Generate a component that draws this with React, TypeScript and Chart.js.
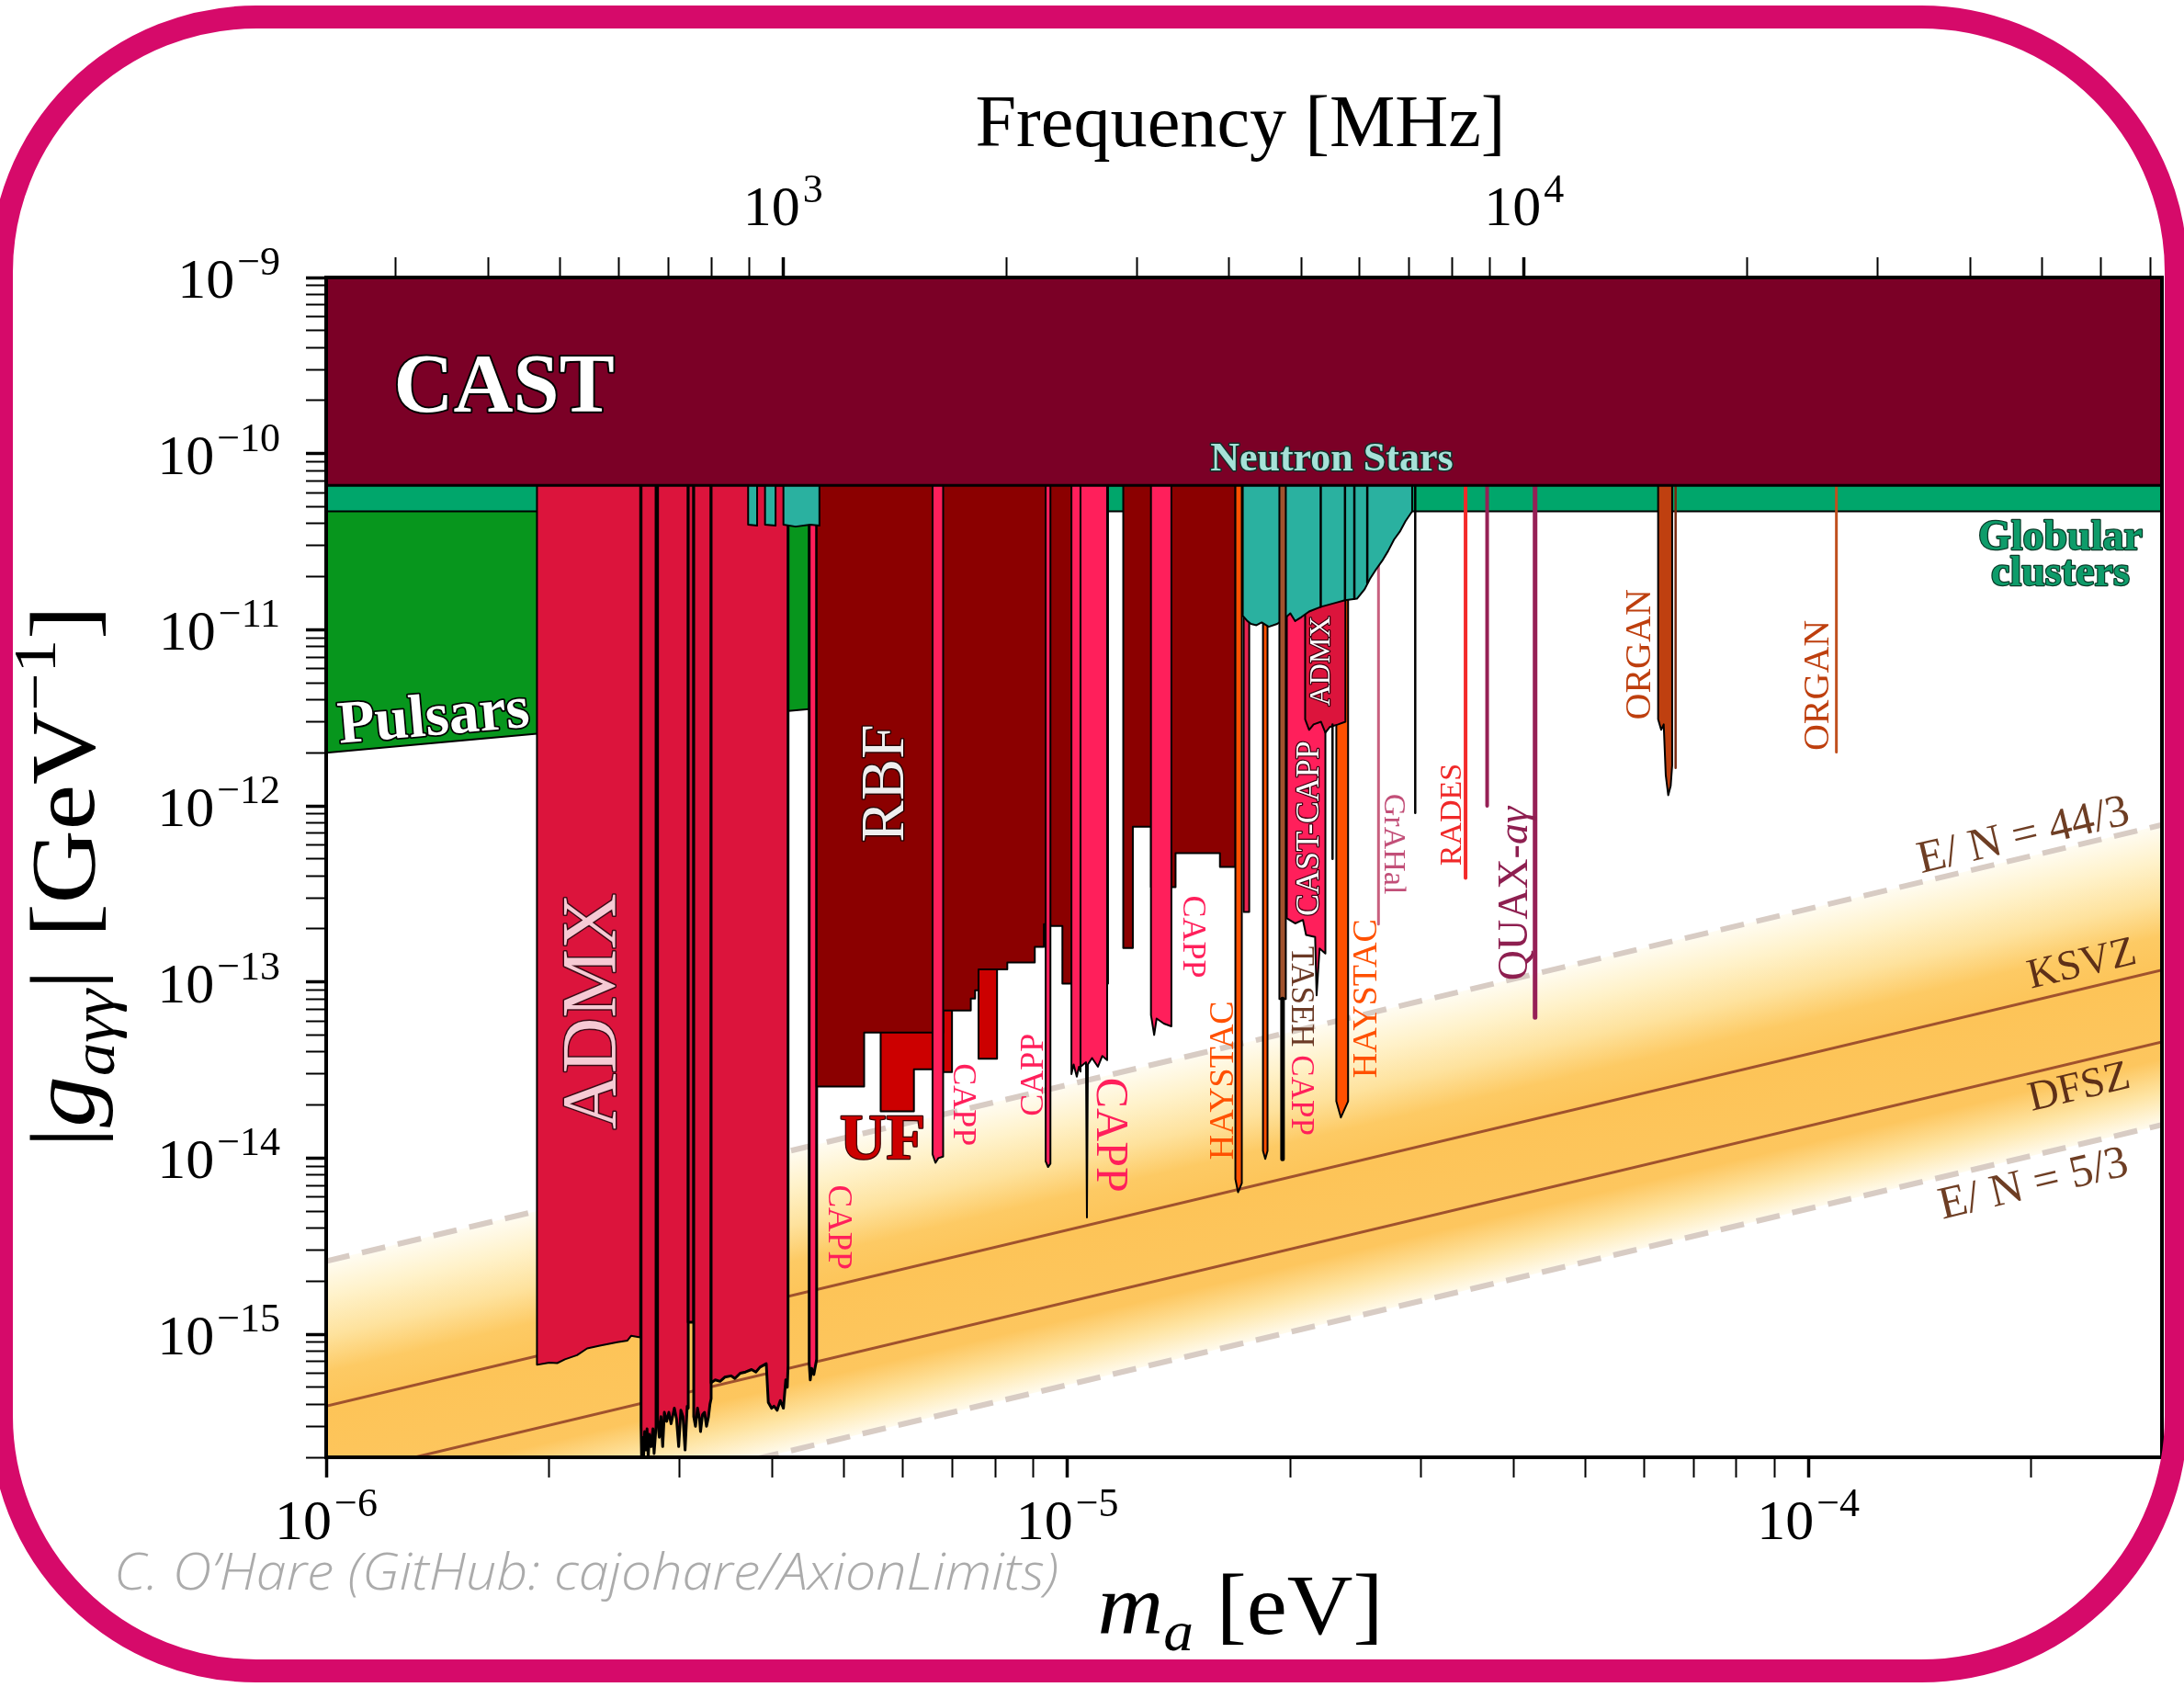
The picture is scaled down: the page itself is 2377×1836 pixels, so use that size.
import React, { useEffect, useRef } from 'react';
import { Chart, registerables } from 'chart.js';

Chart.register(...registerables);

const WIDTH = 2377;
const HEIGHT = 1836;
const SERIF = '"Liberation Serif", "Times New Roman", serif';
const SANS = '"Open Sans", "Noto Sans", sans-serif';

// ---------------- axes ----------------
const M_MIN = 1e-6;
const M_MAX = 3e-4;
const G_MIN = 2e-16;
const G_MAX = 1e-9;
const EV_TO_MHZ = 2.418e8;
const F_MIN = M_MIN * EV_TO_MHZ;
const F_MAX = M_MAX * EV_TO_MHZ;

const massTickLabels: [number, string][] = [[1e-6, '−6'], [1e-5, '−5'], [1e-4, '−4']];
const freqTickLabels: [number, string][] = [[1e3, '3'], [1e4, '4']];
const couplingTickLabels: [number, string][] = [
  [1e-9, '−9'], [1e-10, '−10'], [1e-11, '−11'], [1e-12, '−12'],
  [1e-13, '−13'], [1e-14, '−14'], [1e-15, '−15'],
];

// ---------------- limits (m_a [eV], g [GeV^-1]) ----------------
const TOP = 6.6e-11; // CAST
const HB = 4.7e-11; // globular clusters

const castRegion = [[1e-6, TOP], [3e-4, TOP]];
const globularClusters = [[1e-6, HB], [3e-4, HB]];
const pulsars = [[1e-6, 2.0e-12], [4.55e-6, 3.56e-12]];

const qcdUpper = [[1e-6, 2.6e-15], [3e-4, 7.8e-13]]; // E/N = 44/3
const qcdLower = [[1e-6, 5.15e-17], [3e-4, 1.545e-14]]; // E/N = 5/3
const ksvz = [[1e-6, 3.9e-16], [3e-4, 1.17e-13]];
const dfsz = [[1e-6, 1.52e-16], [3e-4, 4.56e-14]];

const admxA = [[1.925e-6, TOP], [1.925e-6, 6.7e-16], [2.0e-6, 6.9e-16], [2.05e-6, 6.85e-16], [2.1e-6, 7.2e-16], [2.18e-6, 7.6e-16], [2.25e-6, 8.3e-16], [2.34e-6, 8.6e-16], [2.47e-6, 9.0e-16], [2.55e-6, 9.2e-16], [2.58e-6, 9.8e-16], [2.653e-6, 9.6e-16], [2.653e-6, TOP]];
const admxB = [[2.66e-6, TOP], [2.66e-6, 3.0e-16], [2.665e-6, 1.9e-16], [2.672e-6, 2.6e-16], [2.68e-6, 1.95e-16], [2.69e-6, 2.8e-16], [2.7e-6, 2.2e-16], [2.71e-6, 2.9e-16], [2.72e-6, 2.0e-16], [2.73e-6, 2.7e-16], [2.745e-6, 2.3e-16], [2.76e-6, 2.9e-16], [2.77e-6, 2.1e-16], [2.787e-6, 3.0e-16], [2.787e-6, TOP]];
const admxC = [[2.8e-6, TOP], [2.8e-6, 3.3e-16], [2.815e-6, 2.6e-16], [2.83e-6, 3.4e-16], [2.845e-6, 2.3e-16], [2.86e-6, 3.6e-16], [2.88e-6, 3.2e-16], [2.9e-6, 3.6e-16], [2.92e-6, 3.1e-16], [2.95e-6, 3.8e-16], [2.97e-6, 3.3e-16], [2.99e-6, 2.3e-16], [3.01e-6, 3.7e-16], [3.03e-6, 3.4e-16], [3.05e-6, 2.2e-16], [3.07e-6, 3.9e-16], [3.08e-6, 3.8e-16], [3.08e-6, TOP]];
const admxD = [[3.08e-6, TOP], [3.08e-6, 1.17e-15], [3.133e-6, 1.17e-15], [3.133e-6, TOP]];
const admxE = [[3.133e-6, TOP], [3.133e-6, 3.4e-16], [3.15e-6, 3.0e-16], [3.17e-6, 3.8e-16], [3.19e-6, 3.3e-16], [3.2e-6, 2.8e-16], [3.22e-6, 3.5e-16], [3.24e-6, 3.6e-16], [3.26e-6, 3.0e-16], [3.28e-6, 3.4e-16], [3.295e-6, 4.0e-16], [3.307e-6, 4.3e-16], [3.307e-6, TOP]];
const admxF = [[3.307e-6, TOP], [3.307e-6, 5.3e-16], [3.35e-6, 5.5e-16], [3.4e-6, 5.4e-16], [3.45e-6, 5.7e-16], [3.52e-6, 5.8e-16], [3.56e-6, 5.6e-16], [3.62e-6, 6.0e-16], [3.68e-6, 6.1e-16], [3.75e-6, 6.3e-16], [3.8e-6, 6.1e-16], [3.85e-6, 6.5e-16], [3.925e-6, 6.8e-16], [3.95e-6, 4.1e-16], [3.99e-6, 3.8e-16], [4.02e-6, 3.9e-16], [4.06e-6, 3.7e-16], [4.1e-6, 4.2e-16], [4.14e-6, 3.8e-16], [4.17e-6, 5.5e-16], [4.19e-6, 5.0e-16], [4.2e-6, 6.6e-16], [4.2e-6, TOP]];
const admxHigh = [[2.094e-5, TOP], [2.094e-5, 3.1e-12], [2.12e-5, 2.7e-12], [2.15e-5, 2.9e-12], [2.2e-5, 3.0e-12], [2.23e-5, 2.6e-12], [2.26e-5, 2.8e-12], [2.32e-5, 2.9e-12], [2.373e-5, 3.0e-12], [2.373e-5, TOP]];

const cappA = [[4.485e-6, TOP], [4.485e-6, 6.8e-16], [4.5e-6, 5.5e-16], [4.52e-6, 6.4e-16], [4.55e-6, 5.9e-16], [4.59e-6, 7.2e-16], [4.59e-6, TOP]];
const cappB = [[6.58e-6, TOP], [6.58e-6, 1.05e-14], [6.64e-6, 9.4e-15], [6.7e-6, 1.0e-14], [6.8e-6, 1.02e-14], [6.8e-6, TOP]];
const cappC = [[9.35e-6, TOP], [9.35e-6, 9.6e-15], [9.42e-6, 8.9e-15], [9.49e-6, 9.3e-15], [9.49e-6, TOP]];
const cappD = [[1.013e-5, TOP], [1.013e-5, 3.0e-14], [1.02e-5, 3.4e-14], [1.03e-5, 2.9e-14], [1.037e-5, 3.3e-14], [1.042e-5, 3.1e-14], [1.042e-5, TOP]];
const cappE = [[1.042e-5, TOP], [1.042e-5, 3.3e-14], [1.06e-5, 3.5e-14], [1.063e-5, 4.6e-15], [1.066e-5, 3.4e-14], [1.08e-5, 3.7e-14], [1.1e-5, 3.3e-14], [1.115e-5, 3.8e-14], [1.132e-5, 3.6e-14], [1.132e-5, TOP]];
const cappF = [[1.297e-5, TOP], [1.297e-5, 6.5e-14], [1.31e-5, 5.0e-14], [1.32e-5, 6.2e-14], [1.35e-5, 5.8e-14], [1.382e-5, 5.6e-14], [1.382e-5, TOP]];
const cappG = [[1.73e-5, TOP], [1.73e-5, 2.5e-13], [1.76e-5, 2.5e-13], [1.76e-5, TOP]];
const castCapp = [[1.978e-5, TOP], [1.978e-5, 2.3e-13], [2.03e-5, 2.15e-13], [2.08e-5, 2.25e-13], [2.1e-5, 1.85e-13], [2.16e-5, 1.8e-13], [2.17e-5, 8.4e-14], [2.19e-5, 1.55e-13], [2.23e-5, 1.45e-13], [2.23e-5, TOP]];

const rbf = [[4.59e-6, TOP], [4.59e-6, 2.55e-14], [5.32e-6, 2.55e-14], [5.32e-6, 5.16e-14], [6.8e-6, 5.16e-14], [6.8e-6, 6.89e-14], [7.41e-6, 6.89e-14], [7.41e-6, 8.05e-14], [7.51e-6, 8.05e-14], [7.51e-6, 8.98e-14], [7.59e-6, 8.98e-14], [7.59e-6, 1.18e-13], [8.3e-6, 1.18e-13], [8.3e-6, 1.29e-13], [9.04e-6, 1.29e-13], [9.04e-6, 1.58e-13], [9.3e-6, 1.58e-13], [9.3e-6, 2.13e-13], [9.49e-6, 2.13e-13], [9.49e-6, 2.08e-13], [9.85e-6, 2.08e-13], [9.85e-6, 9.77e-14], [1.135e-5, 9.77e-14], [1.135e-5, TOP], [1.19e-5, TOP], [1.19e-5, 1.56e-13], [1.226e-5, 1.56e-13], [1.226e-5, 7.6e-13], [1.297e-5, 7.6e-13], [1.297e-5, 3.45e-13], [1.4e-5, 3.45e-13], [1.4e-5, 5.38e-13], [1.607e-5, 5.38e-13], [1.607e-5, 4.5e-13], [1.686e-5, 4.5e-13], [1.686e-5, TOP]];
const ufA = [[5.6e-6, 5.16e-14], [5.6e-6, 1.84e-14], [6.21e-6, 1.84e-14], [6.21e-6, 3.19e-14], [6.58e-6, 3.19e-14], [6.58e-6, 5.16e-14]];
const ufB = [[6.8e-6, 6.89e-14], [6.8e-6, 3.08e-14], [6.99e-6, 3.08e-14], [6.99e-6, 6.89e-14]];
const ufC = [[7.59e-6, 1.18e-13], [7.59e-6, 3.66e-14], [8.04e-6, 3.66e-14], [8.04e-6, 1.18e-13]];

const haystacA = [[1.686e-5, TOP], [1.686e-5, 7.6e-15], [1.7e-5, 6.4e-15], [1.72e-5, 7.2e-15], [1.72e-5, TOP]];
const haystacB = [[1.837e-5, TOP], [1.837e-5, 1.1e-14], [1.85e-5, 9.9e-15], [1.863e-5, 1.1e-14], [1.863e-5, TOP]];
const haystacC = [[2.307e-5, TOP], [2.307e-5, 2.1e-14], [2.34e-5, 1.7e-14], [2.393e-5, 2.1e-14], [2.393e-5, TOP]];
const taseh = [[1.933e-5, TOP], [1.933e-5, 8.0e-14], [1.972e-5, 8.0e-14], [1.972e-5, TOP]];
const tasehTail = [[1.952e-5, 8.0e-14], [1.952e-5, 9.9e-15]];

const neutronStarsA = [[3.71e-6, TOP], [3.71e-6, 3.95e-11], [3.815e-6, 3.9e-11], [3.815e-6, TOP], [3.91e-6, TOP], [3.91e-6, 3.95e-11], [4.04e-6, 3.9e-11], [4.04e-6, TOP], [4.14e-6, TOP], [4.14e-6, 3.95e-11], [4.3e-6, 3.85e-11], [4.5e-6, 3.95e-11], [4.63e-6, 3.9e-11], [4.63e-6, TOP]];
const neutronStarsB = [[1.725e-5, TOP], [1.725e-5, 1.2e-11], [1.75e-5, 1.12e-11], [1.77e-5, 1.08e-11], [1.8e-5, 1.06e-11], [1.83e-5, 1.1e-11], [1.87e-5, 1.04e-11], [1.92e-5, 1.08e-11], [1.96e-5, 1.15e-11], [2.0e-5, 1.24e-11], [2.03e-5, 1.12e-11], [2.07e-5, 1.18e-11], [2.12e-5, 1.27e-11], [2.2e-5, 1.35e-11], [2.3e-5, 1.42e-11], [2.37e-5, 1.47e-11], [2.46e-5, 1.5e-11], [2.52e-5, 1.7e-11], [2.56e-5, 1.94e-11], [2.61e-5, 2.2e-11], [2.66e-5, 2.46e-11], [2.71e-5, 2.8e-11], [2.76e-5, 3.25e-11], [2.81e-5, 3.6e-11], [2.86e-5, 4.13e-11], [2.92e-5, 4.7e-11], [2.92e-5, TOP]];

const grahal = [[2.63e-5, TOP], [2.63e-5, 2.13e-13]];
const rades = [[3.447e-5, TOP], [3.447e-5, 3.89e-13]];
const quaxA = [[3.686e-5, TOP], [3.686e-5, 1.0e-12]];
const quaxB = [[4.278e-5, TOP], [4.278e-5, 6.3e-14]];
const organA = [[6.27e-5, TOP], [6.27e-5, 3.1e-12], [6.33e-5, 2.7e-12], [6.38e-5, 2.9e-12], [6.42e-5, 1.5e-12], [6.47e-5, 1.15e-12], [6.52e-5, 1.3e-12], [6.55e-5, 1.7e-12], [6.55e-5, TOP]];
const organB = [[6.62e-5, TOP], [6.62e-5, 1.64e-12]];
const organC = [[1.091e-4, TOP], [1.091e-4, 2.02e-12]];
// black outline edges [m, g_top, g_bottom]
const edgeLines = [[2.198e-5, TOP, 1.35e-11], [2.37e-5, TOP, 1.47e-11], [2.44e-5, TOP, 1.5e-11], [2.54e-5, TOP, 1.85e-11], [2.28e-5, 2.9e-12, 5.0e-13], [2.948e-5, TOP, 9.1e-13]];

// ---------------- colours ----------------
const C = {
  cast: '#7B0026', gc: '#00A66B', pulsars: '#07961D', ns: '#2AB1A0', admx: '#DC143C',
  rbf: '#8B0000', uf: '#CC0000', capp: '#FF1F5B', haystac: '#FF5000', taseh: '#A0522D',
  grahal: '#C8607F', rades: '#F42A2A', quax: '#962056', organ: '#BF4010', qcd: '#A0522D', en: '#D8CCC4',
};
const qcdStops: [number, string][] = [
  [0, '#FFFCF2'], [0.12, '#FFF2CA'], [0.25, '#FEE29D'], [0.37, '#FDCA64'], [0.5, '#FDC458'],
  [0.78, '#FDC65E'], [0.89, '#FEE4A2'], [1, '#FFFBEE'],
];

function qcdGradient(c: any) {
  const chart = c.chart;
  const xs = chart.scales && chart.scales.x;
  const ys = chart.scales && chart.scales.y;
  if (!chart.chartArea || !xs || !ys) return '#FDC458';
  const ax = xs.getPixelForValue(qcdUpper[0][0]), ay = ys.getPixelForValue(qcdUpper[0][1]);
  const bx = xs.getPixelForValue(qcdUpper[1][0]), by = ys.getPixelForValue(qcdUpper[1][1]);
  const lx = xs.getPixelForValue(qcdLower[0][0]), ly = ys.getPixelForValue(qcdLower[0][1]);
  let ux = bx - ax, uy = by - ay;
  const len = Math.hypot(ux, uy); ux /= len; uy /= len;
  const nx = -uy, ny = ux;
  const d = (lx - ax) * nx + (ly - ay) * ny;
  const g = chart.ctx.createLinearGradient(ax, ay, ax + nx * d, ay + ny * d);
  qcdStops.forEach(([o, col]) => g.addColorStop(o, col));
  return g;
}

const toXY = (pts: number[][]) => pts.map(([x, y]) => ({ x, y }));

function buildDatasets() {
  const list: any[] = [];
  const area = (pts: number[][], color: string, extra: any = {}) =>
    list.push({ data: toXY(pts), backgroundColor: color, borderColor: '#000', borderWidth: 2, fill: 'end', ...extra });
  const line = (pts: number[][], color: string, width: number, extra: any = {}) =>
    list.push({ data: toXY(pts), borderColor: color, borderWidth: width, fill: false, ...extra });

  // bottom -> top
  line(qcdUpper, C.en, 6, { fill: '+1', backgroundColor: qcdGradient, borderDash: [26, 14], borderJoinStyle: 'miter' });
  line(qcdLower, C.en, 6, { borderDash: [26, 14] });
  line(ksvz, C.qcd, 3);
  line(dfsz, C.qcd, 3);
  area(pulsars, C.pulsars);
  area(globularClusters, C.gc);
  area(admxA, C.admx);
  [admxB, admxC, admxD, admxE, admxF].forEach((p) => area(p, C.admx, { borderWidth: 3 }));
  area(cappA, C.capp, { borderWidth: 3 });
  [ufA, ufB, ufC].forEach((p) => area(p, C.uf));
  area(rbf, C.rbf);
  [cappB, cappC, cappD, cappE, cappF].forEach((p) => area(p, C.capp));
  area(haystacA, C.haystac);
  area(cappG, '#E8234F');
  area(haystacB, C.haystac);
  area(castCapp, C.capp);
  area(haystacC, C.haystac);
  area(admxHigh, C.admx);
  line(grahal, C.grahal, 3);
  area(neutronStarsA, C.ns);
  area(neutronStarsB, C.ns);
  area(taseh, C.taseh);
  line(tasehTail, '#000', 5);
  edgeLines.forEach(([m, a, b]) => line([[m, a], [m, b]], '#000', 2.5));
  line(rades, C.rades, 4);
  line(quaxA, C.quax, 4);
  line(quaxB, C.quax, 5);
  area(organA, C.organ);
  line(organB, '#7A2A10', 2.5);
  line(organC, '#C0501E', 3);
  area(castRegion, C.cast, { borderWidth: 3 });

  list.forEach((d, i) => {
    d.order = list.length - i;
    d.pointRadius = 0;
    d.pointHoverRadius = 0;
    d.tension = 0;
    if (!d.borderJoinStyle) d.borderJoinStyle = 'round';
  });
  return list;
}

// ---------------- text ----------------
type Part = { t: string; s: number; w?: string; i?: boolean; c?: string; dy?: number; gap?: number; f?: string };

function drawRich(ctx: CanvasRenderingContext2D, parts: Part[], o: any) {
  ctx.save();
  ctx.translate(o.x, o.y);
  if (o.rot) ctx.rotate(o.rot);
  const fonts = parts.map((p) => `${p.i ? 'italic' : 'normal'} ${p.w || 'normal'} ${p.s}px ${p.f || SERIF}`);
  const widths = parts.map((p, k) => { ctx.font = fonts[k]; return ctx.measureText(p.t).width + (p.gap || 0); });
  const total = widths.reduce((a, b) => a + b, 0);
  if (o.targetWidth) ctx.scale(o.targetWidth / total, 1);
  let cx = o.align === 'left' ? 0 : o.align === 'right' ? -total : -total / 2;
  const base = o.vcenter ? parts[0].s * 0.34 : 0;
  ctx.textAlign = 'left';
  ctx.textBaseline = 'alphabetic';
  parts.forEach((p, k) => {
    ctx.font = fonts[k];
    const y = base + (p.dy || 0);
    if (o.stroke) {
      ctx.lineJoin = 'round';
      ctx.lineWidth = o.sw || 2;
      ctx.strokeStyle = o.stroke;
      ctx.strokeText(p.t, cx, y);
    }
    ctx.fillStyle = p.c || o.color || '#000';
    ctx.fillText(p.t, cx, y);
    cx += widths[k];
  });
  ctx.restore();
}

const plotLabels: any[] = [
  { parts: [{ t: 'CAST', s: 90, w: 'bold' }], m: 1.738e-6, g: 2.507e-10, rot: 0, color: '#FFFFFF', stroke: '#000', sw: 4 },
  { parts: [{ t: 'Pulsars', s: 66, w: 'bold' }], m: 1.395e-6, g: 3.31e-12, rot: -5, color: '#FFFFFF', stroke: '#000', sw: 3.5 },
  { parts: [{ t: 'ADMX', s: 84 }], m: 2.268e-6, g: 6.81e-14, rot: -90, color: '#F6CAD4', stroke: '#3B0A15', sw: 3 },
  { parts: [{ t: 'RBF', s: 68 }], m: 5.617e-6, g: 1.343e-12, rot: -90, color: '#EEEEEE', stroke: '#2A0000', sw: 3 },
  { parts: [{ t: 'UF', s: 70, w: 'bold' }], m: 5.633e-6, g: 1.327e-14, rot: 0, color: C.uf, stroke: '#3A0000', sw: 2.5 },
  { parts: [{ t: 'CAPP', s: 37 }], m: 4.937e-6, g: 4.045e-15, rot: 90, color: C.capp },
  { parts: [{ t: 'CAPP', s: 36 }], m: 7.272e-6, g: 2.009e-14, rot: 90, color: C.capp },
  { parts: [{ t: 'CAPP', s: 36 }], m: 8.96e-6, g: 2.97e-14, rot: -90, color: C.capp },
  { parts: [{ t: 'CAPP', s: 50 }], m: 1.15e-5, g: 1.352e-14, rot: 90, color: C.capp },
  { parts: [{ t: 'CAPP', s: 36 }], m: 1.484e-5, g: 1.803e-13, rot: 90, color: C.capp },
  { parts: [{ t: 'HAYSTAC', s: 38 }], m: 1.611e-5, g: 2.762e-14, rot: -90, color: C.haystac },
  { parts: [{ t: 'TASEH ', s: 35, c: '#6B3A26' }, { t: 'CAPP', s: 35, c: C.capp }], m: 2.079e-5, g: 4.63e-14, rot: 90 },
  { parts: [{ t: 'HAYSTAC', s: 38 }], m: 2.516e-5, g: 8.05e-14, rot: -90, color: C.haystac },
  { parts: [{ t: 'CAST-CAPP', s: 36 }], m: 2.105e-5, g: 7.45e-13, rot: -90, color: '#FFFFFF', stroke: '#3A0010', sw: 2.5 },
  { parts: [{ t: 'ADMX', s: 32 }], m: 2.192e-5, g: 6.64e-12, rot: -90, color: '#FFFFFF', stroke: '#3A0010', sw: 2.5 },
  { parts: [{ t: 'GrAHal', s: 34 }], m: 2.773e-5, g: 6.07e-13, rot: 90, color: '#C24F78' },
  { parts: [{ t: 'RADES', s: 34 }], m: 3.283e-5, g: 8.92e-13, rot: -90, color: '#F02828' },
  { parts: [{ t: 'QUAX-', s: 46 }, { t: 'aγ', s: 46, i: true }], m: 3.986e-5, g: 3.17e-13, rot: -90, color: '#8E1F50' },
  { parts: [{ t: 'ORGAN', s: 40 }], m: 5.888e-5, g: 7.23e-12, rot: -90, color: '#BE3F0E' },
  { parts: [{ t: 'ORGAN', s: 40 }], m: 1.023e-4, g: 4.83e-12, rot: -90, color: '#BE3F0E' },
  { parts: [{ t: 'Neutron Stars', s: 44, w: 'bold' }], m: 2.274e-5, g: 9.59e-11, rot: 0, color: '#A6E2D8', stroke: '#10302A', sw: 3 },
  { parts: [{ t: 'Globular', s: 46, w: 'bold' }], m: 2.188e-4, g: 3.45e-11, rot: 0, color: '#0E9C6A', stroke: '#0A3A28', sw: 2.5 },
  { parts: [{ t: 'clusters', s: 46, w: 'bold' }], m: 2.188e-4, g: 2.16e-11, rot: 0, color: '#0E9C6A', stroke: '#0A3A28', sw: 2.5 },
  { parts: [{ t: 'E/ N = 44/3', s: 50 }], m: 1.947e-4, g: 7.01e-13, rot: 'slope', color: '#6E3E24' },
  { parts: [{ t: 'KSVZ', s: 46 }], m: 2.336e-4, g: 1.303e-13, rot: 'slope', color: '#5E3018' },
  { parts: [{ t: 'DFSZ', s: 46 }], m: 2.316e-4, g: 2.6e-14, rot: 'slope', color: '#5E3018' },
  { parts: [{ t: 'E/ N = 5/3', s: 50 }], m: 2.009e-4, g: 7.36e-15, rot: 'slope', color: '#6E3E24' },
];

function logTicks(min: number, max: number) {
  const out: any[] = [];
  for (let e = Math.floor(Math.log10(min)); e <= Math.ceil(Math.log10(max)); e++) {
    for (let k = 1; k <= 9; k++) {
      const v = k * Math.pow(10, e);
      if (v >= min * 0.999 && v <= max * 1.001) out.push({ value: v, major: k === 1 });
    }
  }
  return out;
}

const tickGrid = {
  display: true,
  drawOnChartArea: false,
  drawTicks: true,
  tickLength: 22,
  tickColor: '#000',
  tickWidth: (c: any) => (c.tick && c.tick.major ? 3.5 : 2),
};

function powParts(exp: string): Part[] {
  return [{ t: '10', s: 62, gap: 3 }, { t: exp, s: 44, dy: -25 }];
}

const decorPlugin = {
  id: 'decor',
  afterDatasetsDraw(chart: any) {
    const ctx = chart.ctx;
    const ca = chart.chartArea;
    const xs = chart.scales.x, ys = chart.scales.y;
    const p1x = xs.getPixelForValue(ksvz[0][0]), p1y = ys.getPixelForValue(ksvz[0][1]);
    const p2x = xs.getPixelForValue(ksvz[1][0]), p2y = ys.getPixelForValue(ksvz[1][1]);
    const slope = Math.atan2(p2y - p1y, p2x - p1x);
    ctx.save();
    ctx.beginPath();
    ctx.rect(ca.left, ca.top, ca.right - ca.left, ca.bottom - ca.top);
    ctx.clip();
    plotLabels.forEach((l) => {
      const rot = l.rot === 'slope' ? slope : (l.rot * Math.PI) / 180;
      drawRich(ctx, l.parts, { x: xs.getPixelForValue(l.m), y: ys.getPixelForValue(l.g), rot, align: 'center', vcenter: true, color: l.color, stroke: l.stroke, sw: l.sw });
    });
    ctx.restore();
    ctx.save();
    ctx.strokeStyle = '#000';
    ctx.lineWidth = 4;
    ctx.strokeRect(ca.left, ca.top, ca.right - ca.left, ca.bottom - ca.top);
    ctx.restore();
  },
  afterDraw(chart: any) {
    const ctx = chart.ctx;
    const ca = chart.chartArea;
    const xs = chart.scales.x, ys = chart.scales.y, x2 = chart.scales.x2;
    const mid = (ca.left + ca.right) / 2;
    massTickLabels.forEach(([v, e]) => drawRich(ctx, powParts(e), { x: xs.getPixelForValue(v), y: ca.bottom + 89, align: 'center', color: '#000' }));
    freqTickLabels.forEach(([v, e]) => drawRich(ctx, powParts(e), { x: x2.getPixelForValue(v), y: ca.top - 57, align: 'center', color: '#000' }));
    couplingTickLabels.forEach(([v, e]) => drawRich(ctx, powParts(e), { x: ca.left - 50, y: ys.getPixelForValue(v) + 22, align: 'right', color: '#000' }));

    drawRich(ctx, [{ t: 'Frequency [MHz]', s: 80 }], { x: mid - 4, y: ca.top - 143, align: 'center', color: '#000', targetWidth: 577 });
    drawRich(ctx, [{ t: 'm', s: 94, i: true }, { t: 'a', s: 62, i: true, dy: 18 }, { t: ' [eV]', s: 94 }], { x: mid - 4, y: ca.bottom + 192, align: 'center', color: '#000', targetWidth: 311 });
    drawRich(ctx, [
      { t: '|', s: 100 }, { t: 'g', s: 100, i: true }, { t: 'aγγ', s: 66, i: true, dy: 22 }, { t: '|', s: 100, gap: 6 },
      { t: ' [GeV', s: 100 }, { t: '−1', s: 66, dy: -42 }, { t: ']', s: 100 },
    ], { x: 102, y: 954, rot: -Math.PI / 2, align: 'center', color: '#000', targetWidth: 590 });
    drawRich(ctx, [{ t: 'C. O’Hare (GitHub: cajohare/AxionLimits)', s: 56, i: true, w: '300', f: SANS }], { x: 124, y: 1730, align: 'left', color: '#ABABAB', targetWidth: 1028 });
  },
};

export default function App() {
  const ref = useRef<HTMLCanvasElement>(null);
  useEffect(() => {
    const canvas = ref.current;
    if (!canvas) return;
    const chart = new Chart(canvas, {
      type: 'line',
      data: { datasets: buildDatasets() },
      options: {
        responsive: false,
        maintainAspectRatio: false,
        animation: false,
        devicePixelRatio: 1,
        events: [],
        layout: { padding: { left: 333, right: 24, top: 280, bottom: 228 }, autoPadding: false },
        plugins: { legend: { display: false }, tooltip: { enabled: false }, title: { display: false } },
        scales: {
          x: {
            type: 'logarithmic', position: 'bottom', min: M_MIN, max: M_MAX,
            afterBuildTicks: (s: any) => { s.ticks = logTicks(M_MIN, M_MAX); },
            ticks: { display: false, autoSkip: false }, grid: tickGrid, border: { display: false },
          },
          y: {
            type: 'logarithmic', position: 'left', min: G_MIN, max: G_MAX,
            afterBuildTicks: (s: any) => { s.ticks = logTicks(G_MIN, G_MAX); },
            ticks: { display: false, autoSkip: false }, grid: tickGrid, border: { display: false },
          },
          x2: {
            type: 'logarithmic', axis: 'x', position: 'top', min: F_MIN, max: F_MAX,
            afterBuildTicks: (s: any) => { s.ticks = logTicks(F_MIN, F_MAX); },
            ticks: { display: false, autoSkip: false }, grid: tickGrid, border: { display: false },
          },
        },
      } as any,
      plugins: [decorPlugin],
    } as any);
    return () => chart.destroy();
  }, []);
  return (
    <div style={{ position: 'fixed', left: 0, top: 0, width: WIDTH, height: HEIGHT, background: '#fff', overflow: 'hidden' }}>
      <canvas ref={ref} width={WIDTH} height={HEIGHT} style={{ position: 'absolute', left: 0, top: 0, width: WIDTH, height: HEIGHT }} />
      <div style={{ position: 'absolute', left: -11, top: 6, width: 2392, height: 1825, boxSizing: 'border-box', border: '25px solid #D60A6A', borderRadius: 290, pointerEvents: 'none' }} />
    </div>
  );
}
